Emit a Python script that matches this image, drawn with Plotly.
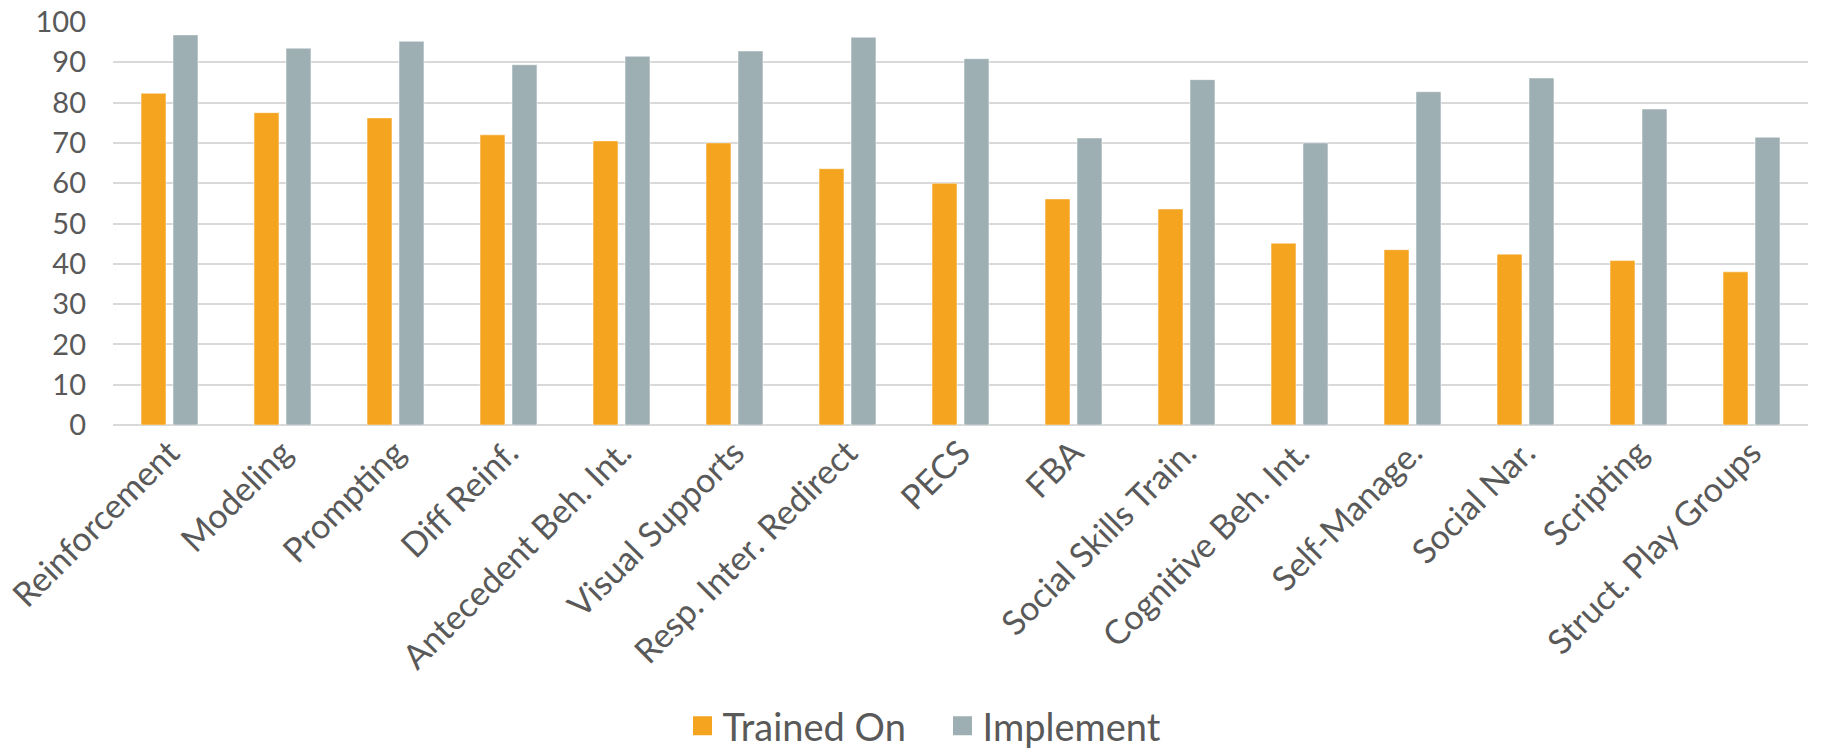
import plotly.graph_objects as go

categories = ["Reinforcement", "Modeling", "Prompting", "Diff Reinf.", "Antecedent Beh. Int.",
              "Visual Supports", "Resp. Inter. Redirect", "PECS", "FBA", "Social Skills Train.",
              "Cognitive Beh. Int.", "Self-Manage.", "Social Nar.", "Scripting", "Struct. Play Groups"]
trained_on = [82.3, 77.5, 76.2, 72.0, 70.5, 70.0, 63.6, 60.0, 56.1, 53.6, 45.1, 43.5, 42.4, 40.8, 38.0]
implement = [96.8, 93.5, 95.2, 89.4, 91.5, 92.8, 96.2, 90.9, 71.2, 85.7, 70.0, 82.7, 86.1, 78.4, 71.4]
y_ticks = [0, 10, 20, 30, 40, 50, 60, 70, 80, 90, 100]

ORANGE = "#F5A420"
GREY = "#9EAFB4"
TEXT = "#595959"
FONT = "Lato"

fig = go.Figure()
fig.add_trace(go.Bar(x=categories, y=trained_on, name="Trained On", marker_color=ORANGE,
                     marker_line=dict(width=0.8, color="rgba(255,255,255,0.6)"), showlegend=False))
fig.add_trace(go.Bar(x=categories, y=implement, name="Implement", marker_color=GREY,
                     marker_line=dict(width=0.8, color="rgba(255,255,255,0.6)"), showlegend=False))
# legend entries
for nm, col in [("Trained On", ORANGE), ("Implement", GREY)]:
    fig.add_trace(go.Scatter(x=[None], y=[None], mode="markers", name=nm,
                             marker=dict(symbol="square", size=18, color=col,
                                         line=dict(width=3, color=col))))

fig.update_layout(
    width=1822, height=750,
    margin=dict(l=113, r=14, t=22, b=325, autoexpand=False),
    paper_bgcolor="white", plot_bgcolor="white",
    barmode="group", bargap=0.434, bargroupgap=0.22,
    font=dict(family=FONT, color=TEXT),
    legend=dict(orientation="h", x=0.336, xanchor="left", y=0.032, yref="container", yanchor="middle",
                font=dict(size=38, color=TEXT, family=FONT), entrywidth=215,
                bgcolor="rgba(0,0,0,0)"),
)
fig.update_xaxes(tickangle=-45, tickfont=dict(size=34, color=TEXT, family=FONT),
                 showgrid=False, showline=False, ticks="")
fig.update_yaxes(range=[0, 100], tickvals=y_ticks, tickfont=dict(size=29, color=TEXT, family=FONT),
                 showgrid=True, gridcolor="#D9D9D9", gridwidth=1.5, zeroline=True,
                 zerolinecolor="#D9D9D9", zerolinewidth=1.5, showline=False, ticks="",
                 ticklabelstandoff=26)

fig.write_html("out.html")
